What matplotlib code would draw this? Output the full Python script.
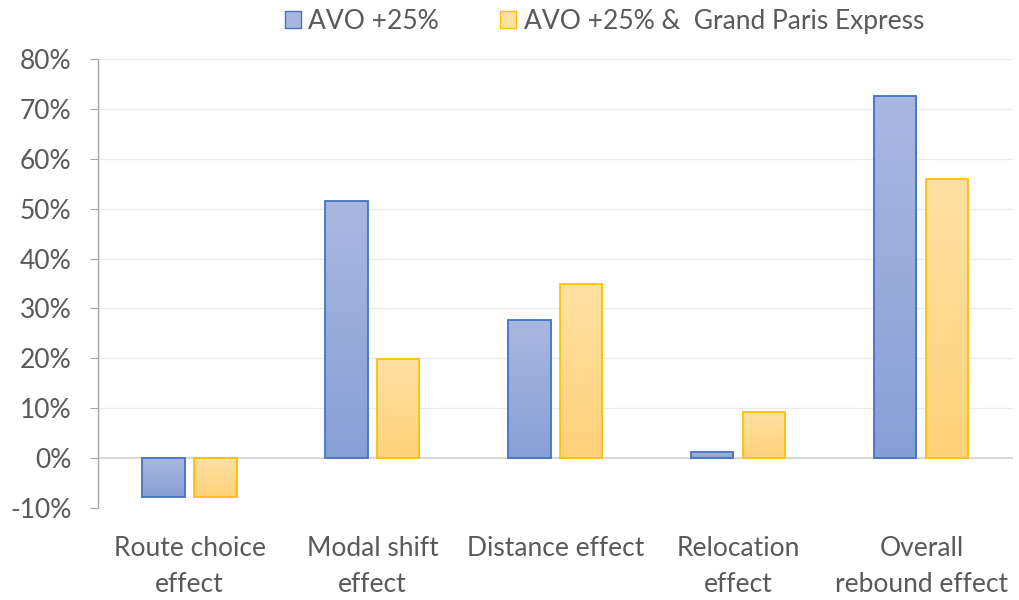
import numpy as np
import matplotlib
matplotlib.use("Agg")
import matplotlib.pyplot as plt
from matplotlib.colors import LinearSegmentedColormap
from matplotlib.patches import Patch
from matplotlib.ticker import FuncFormatter

categories = ["Route choice\neffect", "Modal shift\neffect", "Distance effect",
              "Relocation\neffect", "Overall\nrebound effect"]
series_names = ["AVO +25%", "AVO +25% &  Grand Paris Express"]
avo = [-7.8, 51.5, 27.7, 1.2, 72.5]
avo_gpe = [-7.8, 19.8, 34.9, 9.2, 55.9]
yticks = [-10, 0, 10, 20, 30, 40, 50, 60, 70, 80]

plt.rcParams['font.family'] = ['Lato', 'DejaVu Sans']
text_color = "#595959"
fs = 19

fig = plt.figure(figsize=(10.2, 6.0), dpi=100)
ax = fig.add_axes([0.0961, 0.1533, 0.8969, 0.7484])

x = np.arange(len(categories))
width = 0.23
offset = 0.142

styles = [
    dict(edge="#4472C4", top="#A9B8E0", bottom="#889FD6"),
    dict(edge="#FFC000", top="#FFE0A3", bottom="#FFD27A"),
]

for vals, off, st in zip([avo, avo_gpe], [-offset, offset], styles):
    bars = ax.bar(x + off, vals, width, facecolor="none", edgecolor=st["edge"],
                  linewidth=1.3, zorder=3)
    cmap = LinearSegmentedColormap.from_list("g", [st["bottom"], st["top"]])
    grad = np.linspace(0, 1, 256).reshape(-1, 1)
    for b in bars:
        x0, y0 = b.get_x(), b.get_y()
        w, h = b.get_width(), b.get_height()
        lo, hi = min(y0, y0 + h), max(y0, y0 + h)
        im = ax.imshow(grad, cmap=cmap, aspect="auto", origin="lower",
                       extent=[x0, x0 + w, lo, hi], zorder=2)
        im.set_clip_path(b)

ax.set_xlim(-0.5, len(categories) - 0.5)
ax.set_ylim(-10, 80)
ax.set_yticks(yticks)
ax.yaxis.set_major_formatter(FuncFormatter(lambda v, p: f"{v:.0f}%"))
ax.grid(axis="y", color="#EBEBEB", linewidth=1.0, zorder=0)
ax.set_axisbelow(True)
ax.axhline(0, color="#D9D9D9", linewidth=1.5, zorder=1)

for s in ["top", "right", "bottom"]:
    ax.spines[s].set_visible(False)
ax.spines["left"].set_color("#A6A6A6")
ax.spines["left"].set_linewidth(1.0)

ax.tick_params(axis="y", direction="out", length=6, color="#A6A6A6",
               labelsize=fs, labelcolor=text_color, pad=13)
ax.set_xticks(x)
ax.set_xticklabels(categories, fontsize=fs, color=text_color, linespacing=1.55)
ax.tick_params(axis="x", length=0, pad=20)

handles = [Patch(facecolor=styles[i]["top"], edgecolor=styles[i]["edge"], label=series_names[i])
           for i in range(2)]
fig.legend(handles=handles, loc="upper center", bbox_to_anchor=(0.5925, 1.025), ncol=2,
           frameon=False, fontsize=fs, handlelength=0.6, handleheight=0.6,
           handletextpad=0.3, columnspacing=2.3, labelcolor=text_color)

fig.savefig("out.png", dpi=100)
